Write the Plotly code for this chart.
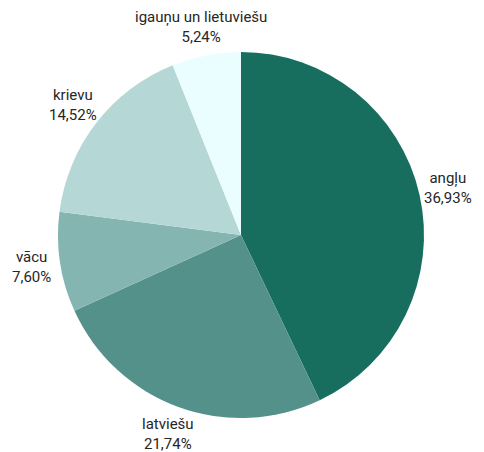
import math
import plotly.graph_objects as go

labels = ["angļu", "latviešu", "vācu", "krievu", "igauņu un lietuviešu"]
values = [36.93, 21.74, 7.60, 14.52, 5.24]
colors = ["#176e5f", "#54918a", "#84b5b1", "#b5d8d6", "#ebfeff"]

texts = [f"{v:.2f}".replace(".", ",") + "%" for v in values]

W, H = 476, 444
M = dict(l=50, r=60, t=44, b=34)
plot_w = W - M["l"] - M["r"]
plot_h = H - M["t"] - M["b"]
radius = min(plot_w, plot_h) / 2
label_dist = radius + 29  # label centre distance from pie centre, px

fig = go.Figure(go.Pie(
    labels=labels,
    values=values,
    text=texts,
    textinfo="none",
    sort=False,
    direction="clockwise",
    rotation=0,
    marker=dict(colors=colors, line=dict(width=0)),
    showlegend=False,
    hoverinfo="label+text",
))

# outside labels centred on each slice's mid-angle
total = sum(values)
cum = 0.0
annotations = []
for lab, txt, v in zip(labels, texts, values):
    mid = (cum + v / 2) / total * 2 * math.pi
    cum += v
    x = 0.5 + label_dist * math.sin(mid) / plot_w
    y = 0.5 + label_dist * math.cos(mid) / plot_h
    annotations.append(dict(
        x=x, y=y, xref="paper", yref="paper",
        text=f"{lab}<br>{txt}", showarrow=False,
        xanchor="center", yanchor="middle", align="center",
        font=dict(family="Roboto, sans-serif", size=15, color="#262626"),
    ))

fig.update_layout(
    width=W, height=H,
    margin=M,
    paper_bgcolor="white",
    plot_bgcolor="white",
    annotations=annotations,
)

fig.write_html("out.html")
